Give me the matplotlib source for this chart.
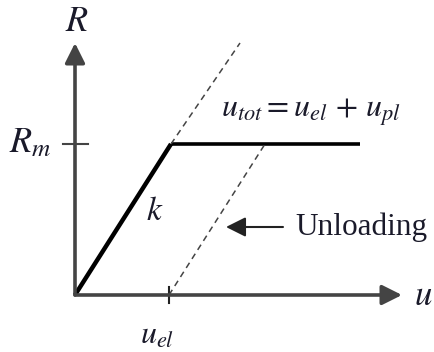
import matplotlib
matplotlib.use("Agg")
import matplotlib.pyplot as plt

plt.rcParams["mathtext.fontset"] = "stix"

# Bilinear force–displacement model (units are drawing units)
u_el = 96          # elastic displacement at yield
R_m = 151          # yield resistance
u_tot = 190        # total displacement where unloading starts
u_end = 285        # end of the plastic plateau
u_max = 327        # length of the displacement axis
R_max = 252        # length of the resistance axis
k = R_m / u_el     # elastic stiffness

# Loading path: elastic branch then plastic plateau
load_u = [0, u_el, u_end]
load_R = [0, R_m, R_m]

# Continuation of the elastic line and the unloading line (both dashed)
ext_u = [u_el, 165]
ext_R = [R_m, R_max]
unl_u = [u_tot - R_m / k, u_tot]
unl_R = [0, R_m]

fig = plt.figure(figsize=(4.35, 3.52), dpi=100)
ax = fig.add_axes([0, 0, 1, 1])
ax.set_xlim(-75, 435 - 75)
ax.set_ylim(-(352 - 295), 295)
ax.axis("off")

axis_col = "#444444"
arrow_kw = dict(arrowstyle="-|>,head_length=0.6,head_width=0.3",
                mutation_scale=20, lw=2.6, color=axis_col,
                shrinkA=0, shrinkB=0)
ax.annotate("", xy=(0, R_max), xytext=(0, 0), arrowprops=arrow_kw)
ax.annotate("", xy=(u_max, 0), xytext=(0, 0), arrowprops=arrow_kw)

# Ticks at R_m and u_el
ax.plot([-12, 13], [R_m, R_m], color=axis_col, lw=1.5)
ax.plot([u_el - 2, u_el - 2], [-8, 8], color="#222222", lw=1.5)

ax.plot(load_u[:2], load_R[:2], color="black", lw=3.2, solid_capstyle="butt")
ax.plot(load_u[1:], load_R[1:], color="black", lw=2.6, solid_capstyle="butt")
ax.plot(ext_u, ext_R, color="#444444", lw=1.1, ls=(0, (4, 3)))
ax.plot(unl_u, unl_R, color="#444444", lw=1.1, ls=(0, (4, 3)))

# Unloading annotation arrow
ax.annotate("", xy=(151, 68), xytext=(208, 68),
            arrowprops=dict(arrowstyle="-|>,head_length=0.6,head_width=0.3",
                            mutation_scale=20, lw=1.5, color="#222222",
                            shrinkA=0, shrinkB=0))

txt = dict(color="#1a1a2a", ha="center", va="center")
ax.text(2, 274, r"$R$", fontsize=26, **txt)
ax.text(-45, R_m + 2, r"$R_m$", fontsize=26, **txt)
ax.text(80, 85, r"$k$", fontsize=24, **txt)
ax.text(82, -40, r"$u_{el}$", fontsize=23, **txt)
ax.text(348, 0, r"$u$", fontsize=25, **txt)
ax.text(236, 183, r"$u_{tot} = u_{el}\, +\, u_{pl}$", fontsize=23, **txt)
ax.text(220, 68, "Unloading", fontsize=22.5, family="Liberation Serif",
        color="#1a1a2a", ha="left", va="center")

fig.savefig("out.png", dpi=100)
